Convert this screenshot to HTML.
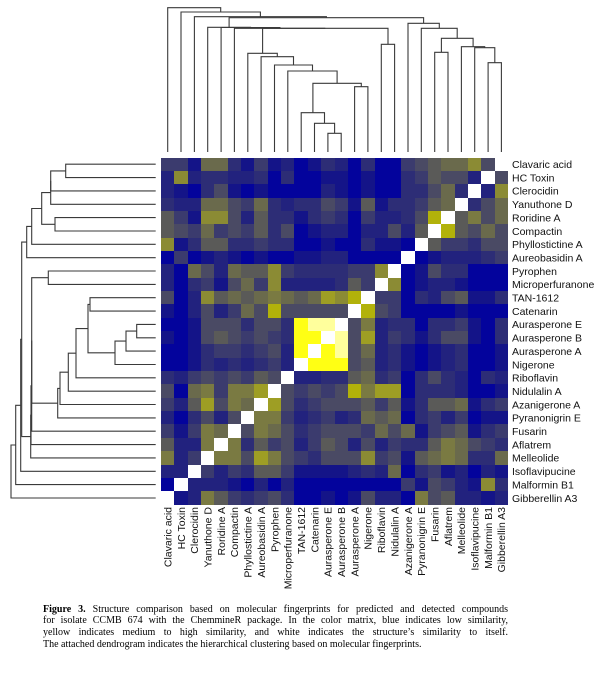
<!DOCTYPE html>
<html>
<head>
<meta charset="utf-8">
<style>
html,body{margin:0;padding:0;background:#fff;}
body{width:600px;height:674px;position:relative;overflow:hidden;}
#hm{position:absolute;left:161px;top:157.5px;width:347.1px;height:347.1px;display:grid;grid-template-columns:repeat(26,1fr);grid-template-rows:repeat(26,1fr);}
#hm p{margin:0;padding:0;}
.b{background:#03039c}.d{background:#141488}.n{background:#22227e}.m{background:#2d2d76}
.g{background:#3b3b6e}.h{background:#4a4a64}.s{background:#5a5a58}.o{background:#6a6a4c}
.p{background:#7a7a42}.q{background:#8b8b34}.r{background:#9e9e24}.y{background:#b2b20a}
.k{background:#ffff14}.l{background:#ffff9c}.w{background:#ffffff}
svg{position:absolute;left:0;top:0;}
.lab{font-family:"Liberation Sans",Arial,sans-serif;font-size:10.5px;fill:#111;}
#cap{position:absolute;left:43px;top:603.6px;width:465px;font-family:"Liberation Serif","Times New Roman",serif;font-size:10px;line-height:11.7px;color:#000;}
#cap div{white-space:nowrap;}
#cap .j{text-align:justify;text-align-last:justify;}
</style>
</head>
<body>
<div id="hm">
<p class=g><p class=g><p class=d><p class=o><p class=o><p class=m><p class=d><p class=g><p class=d><p class=n><p class=b><p class=d><p class=m><p class=n><p class=b><p class=m><p class=b><p class=b><p class=g><p class=h><p class=s><p class=o><p class=o><p class=q><p class=h><p class=w>
<p class=n><p class=q><p class=n><p class=m><p class=m><p class=n><p class=n><p class=m><p class=b><p class=m><p class=b><p class=b><p class=d><p class=d><p class=b><p class=d><p class=b><p class=b><p class=m><p class=g><p class=s><p class=h><p class=h><p class=n><p class=w><p class=h>
<p class=n><p class=d><p class=b><p class=m><p class=h><p class=d><p class=b><p class=d><p class=b><p class=b><p class=b><p class=b><p class=n><p class=d><p class=b><p class=d><p class=b><p class=b><p class=m><p class=m><p class=h><p class=o><p class=m><p class=w><p class=n><p class=q>
<p class=m><p class=n><p class=n><p class=o><p class=o><p class=h><p class=g><p class=o><p class=m><p class=n><p class=m><p class=m><p class=h><p class=g><p class=d><p class=s><p class=d><p class=m><p class=m><p class=g><p class=s><p class=o><p class=w><p class=m><p class=h><p class=o>
<p class=s><p class=g><p class=d><p class=q><p class=q><p class=h><p class=n><p class=s><p class=m><p class=m><p class=d><p class=m><p class=g><p class=m><p class=b><p class=g><p class=n><p class=n><p class=m><p class=h><p class=y><p class=w><p class=s><p class=p><p class=h><p class=o>
<p class=s><p class=h><p class=g><p class=o><p class=g><p class=h><p class=g><p class=s><p class=m><p class=h><p class=b><p class=d><p class=n><p class=n><p class=b><p class=n><p class=n><p class=h><p class=n><p class=s><p class=w><p class=y><p class=s><p class=h><p class=o><p class=h>
<p class=q><p class=d><p class=m><p class=s><p class=s><p class=m><p class=m><p class=g><p class=m><p class=m><p class=b><p class=b><p class=d><p class=b><p class=b><p class=m><p class=d><p class=d><p class=b><p class=w><p class=s><p class=g><p class=g><p class=m><p class=h><p class=h>
<p class=b><p class=g><p class=b><p class=d><p class=n><p class=d><p class=b><p class=d><p class=b><p class=b><p class=d><p class=d><p class=n><p class=n><p class=b><p class=b><p class=b><p class=b><p class=w><p class=b><p class=d><p class=n><p class=n><p class=n><p class=m><p class=g>
<p class=n><p class=b><p class=o><p class=h><p class=n><p class=o><p class=s><p class=s><p class=q><p class=g><p class=m><p class=m><p class=m><p class=m><p class=g><p class=g><p class=q><p class=w><p class=b><p class=d><p class=h><p class=m><p class=m><p class=b><p class=b><p class=b>
<p class=n><p class=b><p class=m><p class=g><p class=d><p class=h><p class=o><p class=g><p class=q><p class=n><p class=n><p class=n><p class=n><p class=m><p class=s><p class=g><p class=w><p class=q><p class=b><p class=d><p class=n><p class=n><p class=d><p class=b><p class=b><p class=b>
<p class=h><p class=b><p class=n><p class=q><p class=s><p class=o><p class=s><p class=o><p class=p><p class=o><p class=s><p class=o><p class=r><p class=q><p class=y><p class=w><p class=g><p class=g><p class=b><p class=m><p class=n><p class=h><p class=s><p class=d><p class=d><p class=m>
<p class=d><p class=b><p class=n><p class=h><p class=n><p class=g><p class=o><p class=h><p class=y><p class=h><p class=h><p class=h><p class=h><p class=h><p class=w><p class=y><p class=h><p class=g><p class=b><p class=b><p class=b><p class=b><p class=d><p class=b><p class=b><p class=b>
<p class=b><p class=b><p class=d><p class=h><p class=h><p class=h><p class=m><p class=h><p class=h><p class=m><p class=k><p class=l><p class=l><p class=w><p class=h><p class=p><p class=n><p class=m><p class=m><p class=b><p class=m><p class=m><p class=g><p class=d><p class=b><p class=m>
<p class=d><p class=b><p class=d><p class=h><p class=s><p class=h><p class=g><p class=h><p class=g><p class=m><p class=k><p class=k><p class=w><p class=l><p class=h><p class=r><p class=n><p class=g><p class=m><p class=d><p class=m><p class=h><p class=h><p class=d><p class=b><p class=m>
<p class=b><p class=b><p class=d><p class=m><p class=g><p class=g><p class=m><p class=g><p class=h><p class=n><p class=k><p class=w><p class=k><p class=l><p class=h><p class=o><p class=n><p class=m><p class=d><p class=b><p class=d><p class=n><p class=m><p class=b><p class=b><p class=d>
<p class=b><p class=b><p class=d><p class=m><p class=n><p class=m><p class=n><p class=m><p class=g><p class=n><p class=w><p class=k><p class=k><p class=k><p class=h><p class=s><p class=n><p class=m><p class=d><p class=b><p class=d><p class=n><p class=m><p class=b><p class=b><p class=d>
<p class=m><p class=n><p class=g><p class=h><p class=g><p class=h><p class=g><p class=s><p class=h><p class=w><p class=n><p class=n><p class=m><p class=m><p class=s><p class=o><p class=m><p class=g><p class=b><p class=m><p class=h><p class=m><p class=n><p class=b><p class=m><p class=n>
<p class=h><p class=b><p class=o><p class=p><p class=g><p class=p><p class=p><p class=r><p class=w><p class=h><p class=g><p class=h><p class=g><p class=h><p class=y><p class=p><p class=r><p class=r><p class=b><p class=m><p class=m><p class=m><p class=n><p class=b><p class=b><p class=d>
<p class=g><p class=n><p class=s><p class=r><p class=h><p class=p><p class=o><p class=w><p class=r><p class=h><p class=m><p class=g><p class=h><p class=h><p class=h><p class=s><p class=g><p class=s><p class=d><p class=m><p class=s><p class=s><p class=o><p class=d><p class=m><p class=g>
<p class=n><p class=b><p class=m><p class=h><p class=n><p class=h><p class=w><p class=p><p class=p><p class=g><p class=n><p class=m><p class=g><p class=n><p class=m><p class=o><p class=s><p class=o><p class=b><p class=m><p class=g><p class=n><p class=g><p class=b><p class=d><p class=d>
<p class=g><p class=d><p class=g><p class=p><p class=o><p class=w><p class=h><p class=p><p class=o><p class=h><p class=m><p class=g><p class=h><p class=h><p class=h><p class=g><p class=o><p class=h><p class=o><p class=d><p class=g><p class=h><p class=s><p class=d><p class=m><p class=g>
<p class=s><p class=n><p class=n><p class=p><p class=w><p class=p><p class=m><p class=s><p class=g><p class=h><p class=n><p class=g><p class=s><p class=h><p class=n><p class=h><p class=n><p class=g><p class=m><p class=m><p class=s><p class=p><p class=o><p class=h><p class=g><p class=m>
<p class=p><p class=n><p class=g><p class=w><p class=p><p class=p><p class=h><p class=r><p class=p><p class=h><p class=g><p class=m><p class=h><p class=h><p class=h><p class=q><p class=g><p class=h><p class=d><p class=s><p class=o><p class=p><p class=o><p class=m><p class=m><p class=o>
<p class=n><p class=n><p class=w><p class=g><p class=n><p class=g><p class=m><p class=s><p class=s><p class=g><p class=d><p class=d><p class=d><p class=d><p class=n><p class=m><p class=n><p class=o><p class=b><p class=m><p class=g><p class=d><p class=n><p class=b><p class=n><p class=d>
<p class=b><p class=w><p class=n><p class=n><p class=n><p class=d><p class=b><p class=n><p class=b><p class=n><p class=b><p class=b><p class=b><p class=b><p class=b><p class=b><p class=b><p class=b><p class=g><p class=d><p class=h><p class=g><p class=n><p class=d><p class=q><p class=m>
<p class=w><p class=d><p class=n><p class=p><p class=s><p class=g><p class=m><p class=g><p class=h><p class=m><p class=b><p class=b><p class=d><p class=b><p class=d><p class=h><p class=n><p class=n><p class=b><p class=p><p class=h><p class=s><p class=n><p class=n><p class=d><p class=n>
</div>

<svg width="600" height="674" viewBox="0 0 600 674" xmlns="http://www.w3.org/2000/svg">
<g fill="none" stroke="#3a3a3a" stroke-width="1.1">
<path d="M327.9 152V133.3H341.2V152"/>
<path d="M314.5 152V123.3H334.6V133.3"/>
<path d="M301.2 152V112.7H324.5V123.3"/>
<path d="M354.6 152V86.7H367.9V152"/>
<path d="M312.9 112.7V83.3H361.3V86.7"/>
<path d="M287.8 152V71H337.1V83.3"/>
<path d="M274.5 152V65H312.5V71"/>
<path d="M261.1 152V56.7H293.5V65"/>
<path d="M247.8 152V53.3H277.3V56.7"/>
<path d="M381.3 152V44.3H394.6V152"/>
<path d="M262.6 53.3V28.3H388V44.3"/>
<path d="M234.4 152V28.3H325.3"/>
<path d="M221.1 152V27.5H279.9V28.3"/>
<path d="M207.7 152V27.3H250.5V27.5"/>
<path d="M488.1 152V62.7H501.4V152"/>
<path d="M474.7 152V47.7H494.8V62.7"/>
<path d="M461.4 152V46.7H484.7V47.7"/>
<path d="M434.7 152V52.3H448V152"/>
<path d="M441.4 52.3V38.3H473.1V46.7"/>
<path d="M421.3 152V28.3H457.2V38.3"/>
<path d="M408 152V23.3H439.3V28.3"/>
<path d="M229.1 27.3V17.7H423.6V23.3"/>
<path d="M194.4 152V16.7H326.4V17.7"/>
<path d="M181 152V12H260.4V16.7"/>
<path d="M167.7 152V7.7H220.7V12"/>
<path d="M155.7 164.2H65.7V177.6H155.7"/>
<path d="M65.7 170.9H50.7V190.9H155.7"/>
<path d="M50.7 180.9V204.3H155.7"/>
<path d="M155.7 217.6H55V231H155.7"/>
<path d="M50.7 192.6H41.7V224.3H55"/>
<path d="M41.7 208.5H31.7V244.3H155.7"/>
<path d="M31.7 226.4H26.7V257.7H155.7"/>
<path d="M155.7 271H48.3V284.4H155.7"/>
<path d="M155.7 297.7H90V311.1H155.7"/>
<path d="M155.7 324.4H136.7V337.8H155.7"/>
<path d="M136.7 331.1H126V351.1H155.7"/>
<path d="M126 341.1H115V364.5H155.7"/>
<path d="M90 304.4H88V352.8H115"/>
<path d="M88 328.6H76V377.8H155.7"/>
<path d="M76 353.2H68.3V391.2H155.7"/>
<path d="M68.3 372.2H60V404.5H155.7"/>
<path d="M60 388.4H57.7V417.9H155.7"/>
<path d="M48.3 277.7H31.7V403.2H57.7"/>
<path d="M31.7 340.5V431.2H155.7"/>
<path d="M31.7 385.8H31V444.6H155.7"/>
<path d="M31 415.2H30.7V457.9H155.7"/>
<path d="M26.7 242.1H21.7V436.6H30.7"/>
<path d="M21.7 339.3H20.7V471.3H155.7"/>
<path d="M20.7 405.3H15.7V484.6H155.7"/>
<path d="M15.7 445H11V498H155.7"/>
</g>

<g class="lab">
<text x="512" y="168">Clavaric acid</text>
<text x="512" y="181.4">HC Toxin</text>
<text x="512" y="194.7">Clerocidin</text>
<text x="512" y="208.1">Yanuthone D</text>
<text x="512" y="221.4">Roridine A</text>
<text x="512" y="234.8">Compactin</text>
<text x="512" y="248.1">Phyllostictine A</text>
<text x="512" y="261.5">Aureobasidin A</text>
<text x="512" y="274.8">Pyrophen</text>
<text x="512" y="288.2">Microperfuranone</text>
<text x="512" y="301.5">TAN-1612</text>
<text x="512" y="314.9">Catenarin</text>
<text x="512" y="328.2">Aurasperone E</text>
<text x="512" y="341.6">Aurasperone B</text>
<text x="512" y="354.9">Aurasperone A</text>
<text x="512" y="368.3">Nigerone</text>
<text x="512" y="381.6">Riboflavin</text>
<text x="512" y="395">Nidulalin A</text>
<text x="512" y="408.3">Azanigerone A</text>
<text x="512" y="421.7">Pyranonigrin E</text>
<text x="512" y="435">Fusarin</text>
<text x="512" y="448.4">Aflatrem</text>
<text x="512" y="461.7">Melleolide</text>
<text x="512" y="475.1">Isoflavipucine</text>
<text x="512" y="488.4">Malformin B1</text>
<text x="512" y="501.8">Gibberellin A3</text>
</g>

<g class="lab" text-anchor="end">
<text transform="translate(171.5,507) rotate(-90)">Clavaric acid</text>
<text transform="translate(184.8,507) rotate(-90)">HC Toxin</text>
<text transform="translate(198.2,507) rotate(-90)">Clerocidin</text>
<text transform="translate(211.5,507) rotate(-90)">Yanuthone D</text>
<text transform="translate(224.9,507) rotate(-90)">Roridine A</text>
<text transform="translate(238.2,507) rotate(-90)">Compactin</text>
<text transform="translate(251.6,507) rotate(-90)">Phyllostictine A</text>
<text transform="translate(264.9,507) rotate(-90)">Aureobasidin A</text>
<text transform="translate(278.3,507) rotate(-90)">Pyrophen</text>
<text transform="translate(291.6,507) rotate(-90)">Microperfuranone</text>
<text transform="translate(305,507) rotate(-90)">TAN-1612</text>
<text transform="translate(318.3,507) rotate(-90)">Catenarin</text>
<text transform="translate(331.7,507) rotate(-90)">Aurasperone E</text>
<text transform="translate(345,507) rotate(-90)">Aurasperone B</text>
<text transform="translate(358.4,507) rotate(-90)">Aurasperone A</text>
<text transform="translate(371.7,507) rotate(-90)">Nigerone</text>
<text transform="translate(385.1,507) rotate(-90)">Riboflavin</text>
<text transform="translate(398.4,507) rotate(-90)">Nidulalin A</text>
<text transform="translate(411.8,507) rotate(-90)">Azanigerone A</text>
<text transform="translate(425.1,507) rotate(-90)">Pyranonigrin E</text>
<text transform="translate(438.5,507) rotate(-90)">Fusarin</text>
<text transform="translate(451.8,507) rotate(-90)">Aflatrem</text>
<text transform="translate(465.2,507) rotate(-90)">Melleolide</text>
<text transform="translate(478.5,507) rotate(-90)">Isoflavipucine</text>
<text transform="translate(491.9,507) rotate(-90)">Malformin B1</text>
<text transform="translate(505.2,507) rotate(-90)">Gibberellin A3</text>
</g>
</svg>

<div id="cap">
<div class="j"><b>Figure 3.</b> Structure comparison based on molecular fingerprints for predicted and detected compounds</div>
<div class="j">for isolate CCMB 674 with the ChemmineR package. In the color matrix, blue indicates low similarity,</div>
<div class="j">yellow indicates medium to high similarity, and white indicates the structure’s similarity to itself.</div>
<div>The attached dendrogram indicates the hierarchical clustering based on molecular fingerprints.</div>
</div>
</body>
</html>
